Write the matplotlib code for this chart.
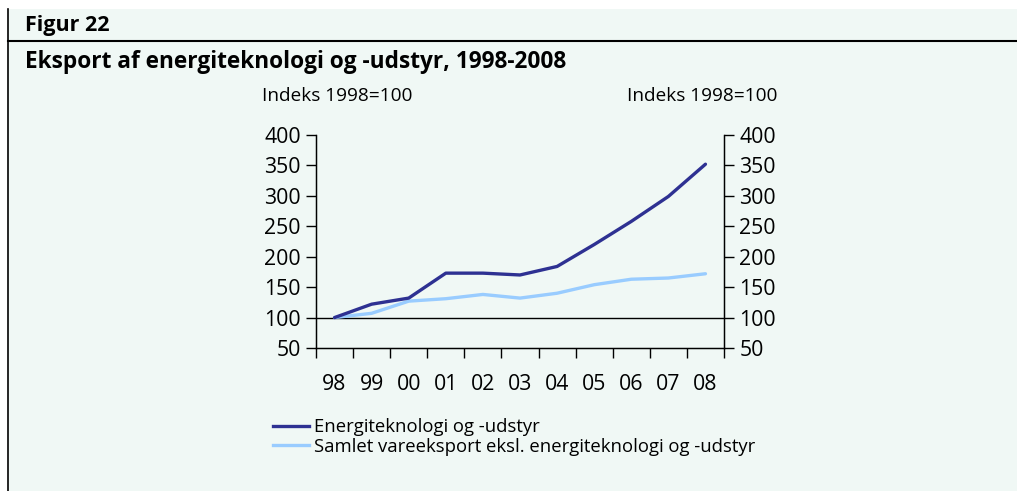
import matplotlib
matplotlib.use("Agg")
import matplotlib.pyplot as plt
from matplotlib.lines import Line2D
from matplotlib.patches import Rectangle

years = ["98", "99", "00", "01", "02", "03", "04", "05", "06", "07", "08"]
energi = [100, 122, 132, 173, 173, 170, 184, 220, 258, 299, 352]
samlet = [100, 107, 127, 131, 138, 132, 140, 154, 163, 165, 172]
yticks = [50, 100, 150, 200, 250, 300, 350, 400]

series_names = ["Energiteknologi og -udstyr",
                "Samlet vareeksport eksl. energiteknologi og -udstyr"]
c_dark = "#2e3192"
c_light = "#99ccff"
bg = "#f0f8f5"

plt.rcParams["font.family"] = ["Open Sans", "DejaVu Sans"]

W, H = 1017, 491
fig = plt.figure(figsize=(W / 100, H / 100), dpi=100)
fig.patch.set_facecolor("white")

# background panel
fig.add_artist(Rectangle((9 / W, 0), 1 - 9 / W, 1 - 9 / H, transform=fig.transFigure,
                         facecolor=bg, edgecolor="none", zorder=0))
fig.add_artist(Line2D([8 / W, 8 / W], [0, 1 - 9 / H], transform=fig.transFigure,
                      color="black", lw=1.2))
fig.add_artist(Line2D([8 / W, 1], [1 - 41 / H, 1 - 41 / H], transform=fig.transFigure,
                      color="black", lw=1.5))

fig.text(25 / W, 1 - 25 / H, "Figur 22", fontsize=15.5, fontweight="bold", va="center", ha="left")
fig.text(25 / W, 1 - 62 / H, "Eksport af energiteknologi og -udstyr, 1998-2008",
         fontsize=16.3, fontweight="bold", va="center", ha="left")

ax = fig.add_axes([316 / W, 1 - 348 / H, (724 - 316) / W, (348 - 135) / H])
ax.set_facecolor("none")
x = list(range(len(years)))
ax.plot(x, energi, color=c_dark, lw=2.4, solid_capstyle="round", zorder=3)
ax.plot(x, samlet, color=c_light, lw=2.4, solid_capstyle="round", zorder=2)
ax.axhline(100, color="black", lw=1.0, zorder=1)

ax.set_xlim(-0.5, len(years) - 0.5)
ax.set_ylim(50, 400)
ax.set_yticks(yticks)
ax.set_xticks([i - 0.5 for i in range(len(years) + 1)])
ax.set_xticklabels([])
ax.set_xticks(x, minor=True)
ax.set_xticklabels(years, minor=True)
ax.tick_params(axis="x", which="major", length=7, direction="out", width=1)
ax.tick_params(axis="x", which="minor", length=0, pad=19, labelsize=15.3)
ax.tick_params(axis="y", length=7, width=1, labelsize=15.3, pad=4)
ax.spines["top"].set_visible(False)
for s in ["left", "right", "bottom"]:
    ax.spines[s].set_linewidth(1.0)

ax2 = ax.twinx()
ax2.set_ylim(50, 400)
ax2.set_yticks(yticks)
ax2.tick_params(axis="y", length=7, width=1, labelsize=15.3, pad=4)
ax2.spines["top"].set_visible(False)

fig.text(262 / W, 1 - 96 / H, "Indeks 1998=100", fontsize=13.7, va="center", ha="left")
fig.text(627 / W, 1 - 96 / H, "Indeks 1998=100", fontsize=13.7, va="center", ha="left")

handles = [Line2D([], [], color=c_dark, lw=2.4), Line2D([], [], color=c_light, lw=2.4)]
fig.legend(handles, series_names, loc="upper left", bbox_to_anchor=(273 / W, 1 - 418 / H),
           frameon=False, fontsize=13.3, handlelength=1.95, handletextpad=0.27,
           labelspacing=0.1, borderpad=0, borderaxespad=0)

fig.savefig("out.png", dpi=100, facecolor=fig.get_facecolor())
